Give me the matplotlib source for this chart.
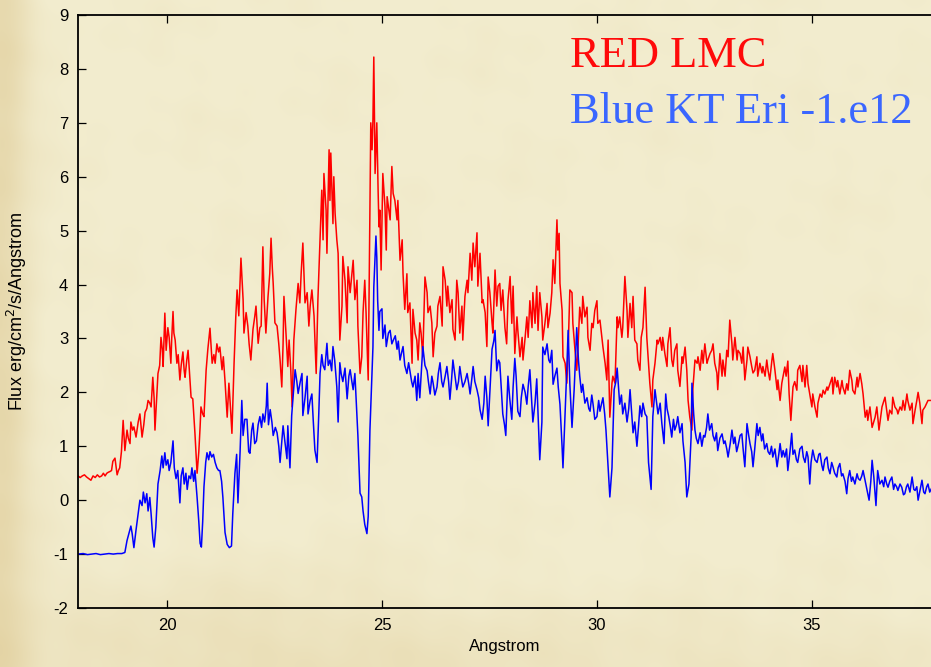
import numpy as np
import matplotlib
matplotlib.use("Agg")
import matplotlib.pyplot as plt

plt.rcParams["font.family"] = ["Liberation Sans", "DejaVu Sans"]
plt.rcParams["axes.unicode_minus"] = False

# (wavelength [A], flux) traced spectra
red_points = [
    (17.93, 0.45), (17.98, 0.42), (18.03, 0.45), (18.08, 0.47), (18.13, 0.43), (18.18, 0.40),
    (18.23, 0.37), (18.28, 0.45), (18.33, 0.42), (18.38, 0.47), (18.43, 0.43), (18.48, 0.45),
    (18.52, 0.50), (18.56, 0.45), (18.60, 0.50), (18.64, 0.52), (18.67, 0.53), (18.71, 0.55),
    (18.74, 0.72), (18.79, 0.78), (18.84, 0.47), (18.87, 0.55), (18.90, 0.60), (18.94, 0.90),
    (18.98, 1.48), (19.02, 0.92), (19.07, 1.30), (19.10, 1.15), (19.14, 1.05), (19.16, 1.45),
    (19.20, 1.30), (19.23, 1.36), (19.28, 1.17), (19.33, 1.45), (19.37, 1.60), (19.42, 1.17),
    (19.46, 1.40), (19.49, 1.63), (19.53, 1.70), (19.56, 1.85), (19.60, 1.80), (19.63, 1.73),
    (19.67, 2.28), (19.70, 1.90), (19.72, 1.30), (19.76, 1.90), (19.79, 2.35), (19.83, 2.50),
    (19.86, 3.02), (19.89, 2.80), (19.91, 2.48), (19.95, 3.47), (19.98, 2.78), (20.02, 3.20),
    (20.05, 3.02), (20.09, 2.54), (20.11, 3.00), (20.14, 3.50), (20.16, 3.10), (20.19, 2.97),
    (20.23, 2.54), (20.26, 2.70), (20.30, 2.23), (20.33, 2.50), (20.37, 2.75), (20.40, 2.40),
    (20.42, 2.28), (20.46, 2.60), (20.49, 2.78), (20.53, 2.30), (20.56, 1.91), (20.60, 1.88),
    (20.65, 1.24), (20.70, 0.50), (20.74, 0.90), (20.77, 1.36), (20.79, 1.73), (20.83, 1.60),
    (20.86, 1.55), (20.91, 2.41), (20.95, 2.80), (21.00, 3.19), (21.05, 2.54), (21.09, 2.70),
    (21.12, 2.54), (21.16, 2.90), (21.20, 2.75), (21.23, 2.84), (21.28, 2.42), (21.31, 2.66),
    (21.35, 2.20), (21.40, 1.54), (21.44, 2.17), (21.47, 1.80), (21.51, 1.24), (21.56, 2.54),
    (21.60, 3.40), (21.63, 3.90), (21.67, 3.42), (21.72, 4.49), (21.77, 3.72), (21.79, 3.10),
    (21.84, 3.48), (21.88, 3.23), (21.91, 2.90), (21.95, 2.60), (22.00, 3.17), (22.04, 3.40),
    (22.07, 3.60), (22.12, 2.91), (22.16, 3.20), (22.19, 3.23), (22.23, 4.70), (22.26, 3.72),
    (22.30, 3.10), (22.35, 3.78), (22.39, 4.20), (22.42, 4.86), (22.45, 4.30), (22.47, 4.02),
    (22.51, 3.29), (22.56, 3.23), (22.60, 2.90), (22.63, 2.60), (22.67, 2.10), (22.70, 2.90),
    (22.72, 3.78), (22.77, 3.04), (22.81, 2.48), (22.84, 2.97), (22.88, 2.40), (22.91, 1.73),
    (22.95, 2.97), (23.00, 3.54), (23.05, 4.02), (23.09, 3.66), (23.12, 4.20), (23.16, 4.77),
    (23.21, 3.66), (23.26, 3.85), (23.30, 3.23), (23.33, 3.60), (23.37, 3.90), (23.42, 3.42),
    (23.47, 2.35), (23.51, 3.72), (23.56, 4.83), (23.60, 5.75), (23.63, 4.83), (23.65, 6.06),
    (23.70, 5.38), (23.72, 4.58), (23.77, 6.50), (23.79, 5.56), (23.81, 6.44), (23.86, 5.13),
    (23.88, 6.00), (23.91, 5.32), (23.95, 4.83), (23.98, 4.58), (24.02, 2.97), (24.07, 3.60),
    (24.09, 4.52), (24.14, 4.08), (24.19, 3.29), (24.21, 4.33), (24.26, 3.85), (24.30, 4.20),
    (24.33, 4.45), (24.37, 3.72), (24.42, 4.08), (24.44, 3.23), (24.49, 2.35), (24.53, 2.66),
    (24.56, 3.48), (24.60, 4.08), (24.63, 3.48), (24.65, 2.97), (24.68, 2.23), (24.72, 5.50),
    (24.74, 7.00), (24.77, 6.50), (24.79, 7.06), (24.81, 8.22), (24.84, 6.06), (24.88, 7.00),
    (24.91, 5.75), (24.93, 5.07), (24.95, 5.38), (24.98, 4.27), (25.02, 6.06), (25.07, 5.44),
    (25.10, 4.64), (25.12, 5.63), (25.19, 5.20), (25.23, 6.19), (25.26, 5.69), (25.30, 5.56),
    (25.35, 5.20), (25.37, 5.56), (25.42, 4.45), (25.47, 4.83), (25.49, 4.20), (25.53, 3.54),
    (25.58, 4.20), (25.60, 3.48), (25.65, 3.66), (25.70, 2.54), (25.72, 3.54), (25.77, 3.10),
    (25.81, 2.97), (25.84, 2.60), (25.88, 3.29), (25.91, 3.10), (25.95, 2.66), (26.00, 4.14),
    (26.05, 3.85), (26.07, 3.48), (26.12, 3.60), (26.16, 3.29), (26.19, 2.66), (26.23, 3.10),
    (26.28, 3.23), (26.30, 3.60), (26.35, 3.78), (26.40, 3.23), (26.42, 4.33), (26.47, 4.08),
    (26.51, 3.60), (26.53, 3.97), (26.58, 3.48), (26.63, 3.72), (26.65, 3.17), (26.70, 2.97),
    (26.74, 4.08), (26.77, 3.85), (26.81, 3.10), (26.86, 3.60), (26.88, 2.97), (26.93, 3.78),
    (26.98, 4.08), (27.00, 3.85), (27.05, 4.58), (27.09, 4.08), (27.12, 4.77), (27.16, 4.33),
    (27.21, 4.96), (27.23, 3.97), (27.28, 4.58), (27.33, 3.66), (27.35, 3.72), (27.40, 3.48),
    (27.44, 2.85), (27.47, 4.14), (27.51, 3.85), (27.56, 3.29), (27.58, 3.10), (27.63, 4.27),
    (27.67, 3.60), (27.70, 3.97), (27.74, 4.02), (27.77, 3.52), (27.81, 3.90), (27.86, 3.20),
    (27.90, 2.90), (27.93, 3.70), (27.98, 4.15), (28.02, 3.28), (28.05, 3.97), (28.09, 2.72),
    (28.14, 3.40), (28.16, 3.15), (28.21, 2.66), (28.26, 3.02), (28.28, 2.60), (28.33, 3.02),
    (28.37, 3.40), (28.40, 3.02), (28.44, 3.70), (28.49, 3.20), (28.51, 3.85), (28.56, 3.28),
    (28.60, 3.97), (28.63, 3.15), (28.67, 3.85), (28.72, 3.40), (28.74, 2.97), (28.79, 3.28),
    (28.84, 3.65), (28.86, 3.20), (28.91, 3.47), (28.95, 3.85), (28.98, 4.46), (29.02, 4.02),
    (29.07, 5.20), (29.09, 4.64), (29.12, 4.95), (29.14, 4.02), (29.19, 3.52), (29.21, 2.66),
    (29.26, 2.54), (29.30, 2.17), (29.33, 2.78), (29.37, 3.90), (29.42, 3.85), (29.44, 3.28),
    (29.49, 2.78), (29.53, 2.41), (29.56, 2.84), (29.60, 3.58), (29.65, 3.28), (29.67, 3.78),
    (29.72, 3.40), (29.77, 3.58), (29.79, 3.02), (29.84, 2.78), (29.88, 3.28), (29.91, 3.20),
    (29.95, 3.52), (30.00, 3.70), (30.02, 3.28), (30.07, 3.34), (30.12, 2.97), (30.14, 2.84),
    (30.19, 2.54), (30.23, 2.23), (30.26, 2.97), (30.30, 1.54), (30.35, 2.17), (30.37, 2.30),
    (30.42, 2.17), (30.47, 3.40), (30.49, 3.20), (30.53, 3.40), (30.58, 3.02), (30.60, 3.20),
    (30.65, 4.15), (30.70, 3.52), (30.72, 3.02), (30.77, 3.65), (30.81, 3.20), (30.84, 3.78),
    (30.88, 2.97), (30.93, 2.90), (30.95, 2.60), (31.00, 2.41), (31.03, 3.02), (31.07, 3.20),
    (31.12, 3.95), (31.16, 3.02), (31.19, 2.66), (31.23, 2.17), (31.28, 1.73), (31.30, 2.23),
    (31.35, 2.54), (31.40, 2.97), (31.42, 2.90), (31.47, 3.02), (31.51, 2.78), (31.53, 3.02),
    (31.58, 2.72), (31.63, 2.48), (31.65, 2.90), (31.70, 3.20), (31.74, 2.60), (31.77, 2.48),
    (31.81, 2.78), (31.86, 2.90), (31.88, 2.41), (31.93, 2.11), (31.98, 2.66), (32.00, 2.54),
    (32.05, 2.84), (32.09, 2.41), (32.12, 1.85), (32.16, 1.54), (32.21, 1.30), (32.23, 2.05),
    (32.28, 2.60), (32.33, 2.54), (32.35, 2.66), (32.40, 2.41), (32.44, 2.78), (32.47, 2.54),
    (32.51, 2.90), (32.56, 2.54), (32.58, 2.60), (32.63, 2.72), (32.67, 2.78), (32.70, 2.90),
    (32.74, 2.54), (32.79, 2.36), (32.81, 2.05), (32.86, 2.72), (32.91, 2.30), (32.93, 2.60),
    (32.98, 2.30), (33.02, 2.78), (33.05, 2.66), (33.09, 3.34), (33.14, 2.90), (33.16, 2.60),
    (33.21, 3.02), (33.26, 2.60), (33.28, 2.78), (33.33, 2.72), (33.37, 2.54), (33.40, 2.84),
    (33.44, 2.23), (33.49, 2.60), (33.51, 2.84), (33.56, 2.66), (33.60, 2.48), (33.63, 2.36),
    (33.67, 2.41), (33.72, 2.66), (33.74, 2.30), (33.79, 2.54), (33.84, 2.36), (33.86, 2.48),
    (33.91, 2.30), (33.95, 2.60), (33.98, 2.41), (34.02, 2.23), (34.07, 2.60), (34.09, 2.72),
    (34.14, 2.41), (34.19, 2.05), (34.21, 2.23), (34.26, 1.85), (34.30, 2.17), (34.33, 2.30),
    (34.37, 2.47), (34.40, 2.30), (34.44, 2.58), (34.47, 1.97), (34.51, 1.48), (34.56, 2.10),
    (34.60, 2.20), (34.65, 2.04), (34.67, 2.41), (34.72, 2.50), (34.77, 2.20), (34.79, 2.50),
    (34.84, 2.10), (34.88, 2.50), (34.91, 2.16), (34.95, 1.97), (35.00, 1.73), (35.02, 1.97),
    (35.07, 1.73), (35.12, 1.54), (35.14, 1.80), (35.19, 1.97), (35.23, 1.91), (35.26, 2.04),
    (35.30, 1.97), (35.35, 2.10), (35.37, 2.04), (35.42, 2.16), (35.47, 2.28), (35.49, 1.97),
    (35.53, 2.28), (35.58, 2.10), (35.60, 2.22), (35.65, 1.97), (35.70, 2.22), (35.72, 2.10),
    (35.77, 1.97), (35.81, 2.16), (35.84, 2.04), (35.88, 2.41), (35.93, 2.22), (35.95, 2.04),
    (36.00, 1.97), (36.05, 2.28), (36.07, 2.10), (36.12, 2.35), (36.16, 2.16), (36.19, 1.97),
    (36.24, 1.54), (36.28, 1.67), (36.30, 1.48), (36.35, 1.73), (36.40, 1.35), (36.47, 1.54),
    (36.51, 1.73), (36.56, 1.30), (36.63, 1.73), (36.70, 1.91), (36.74, 1.67), (36.77, 1.48),
    (36.81, 1.67), (36.86, 1.60), (36.88, 1.91), (36.93, 1.73), (36.98, 1.67), (37.00, 1.60),
    (37.05, 1.73), (37.09, 1.67), (37.12, 1.85), (37.16, 1.67), (37.21, 1.97), (37.23, 1.85),
    (37.28, 1.67), (37.33, 1.80), (37.35, 1.42), (37.40, 1.67), (37.44, 1.85), (37.47, 2.00),
    (37.51, 1.80), (37.56, 1.42), (37.58, 1.67), (37.63, 1.73), (37.67, 1.80), (37.70, 1.85),
    (37.80, 1.85),
]

blue_points = [
    (17.93, -1.00), (18.05, -0.99), (18.15, -1.01), (18.25, -1.00), (18.35, -0.99), (18.45, -1.01),
    (18.55, -1.00), (18.65, -0.99), (18.75, -1.00), (18.85, -0.99), (18.95, -0.99), (19.02, -0.97),
    (19.07, -0.75), (19.12, -0.60), (19.16, -0.48), (19.19, -0.62), (19.23, -0.88), (19.28, -0.55),
    (19.33, -0.25), (19.37, 0.00), (19.42, -0.10), (19.45, 0.15), (19.49, -0.05), (19.53, 0.12),
    (19.56, -0.20), (19.60, 0.05), (19.63, -0.25), (19.67, -0.70), (19.70, -0.87), (19.74, -0.50),
    (19.79, 0.30), (19.84, 0.55), (19.88, 0.82), (19.91, 0.60), (19.95, 0.88), (19.98, 0.65),
    (20.02, 0.75), (20.05, 0.55), (20.09, 0.70), (20.14, 1.10), (20.17, 0.60), (20.21, 0.40),
    (20.25, 0.55), (20.30, -0.05), (20.33, 0.45), (20.37, 0.60), (20.40, 0.30), (20.44, 0.50),
    (20.47, 0.20), (20.51, 0.45), (20.55, 0.40), (20.58, 0.60), (20.62, 0.35), (20.65, 0.55),
    (20.70, 0.05), (20.74, -0.40), (20.77, -0.80), (20.80, -0.87), (20.83, -0.40), (20.86, 0.25),
    (20.90, 0.70), (20.93, 0.88), (20.97, 0.75), (21.00, 0.90), (21.04, 0.80), (21.08, 0.85),
    (21.12, 0.70), (21.16, 0.60), (21.20, 0.55), (21.23, 0.55), (21.27, 0.35), (21.30, 0.05),
    (21.35, -0.60), (21.40, -0.82), (21.45, -0.88), (21.50, -0.85), (21.53, -0.25), (21.58, 0.50),
    (21.62, 0.85), (21.65, -0.05), (21.70, 0.90), (21.74, 1.85), (21.77, 1.20), (21.81, 1.50),
    (21.86, 1.50), (21.90, 0.90), (21.93, 0.87), (21.97, 1.30), (22.00, 1.43), (22.04, 1.05),
    (22.08, 1.10), (22.12, 1.40), (22.16, 1.55), (22.20, 1.35), (22.23, 1.60), (22.27, 1.45),
    (22.31, 1.75), (22.33, 2.17), (22.36, 1.40), (22.40, 1.68), (22.44, 1.45), (22.47, 1.20),
    (22.52, 1.35), (22.56, 1.25), (22.60, 1.00), (22.63, 0.70), (22.67, 1.10), (22.70, 1.38),
    (22.74, 1.10), (22.79, 0.77), (22.81, 1.38), (22.86, 0.60), (22.90, 1.57), (22.95, 2.10),
    (22.98, 2.42), (23.02, 2.20), (23.05, 1.98), (23.10, 2.20), (23.14, 2.35), (23.16, 1.57),
    (23.21, 1.90), (23.26, 2.30), (23.28, 1.60), (23.33, 1.85), (23.37, 1.97), (23.40, 1.50),
    (23.44, 0.93), (23.49, 0.70), (23.53, 1.60), (23.56, 2.35), (23.60, 2.70), (23.63, 2.50),
    (23.67, 2.42), (23.72, 2.91), (23.75, 2.50), (23.79, 2.60), (23.83, 2.40), (23.86, 2.85),
    (23.90, 2.60), (23.95, 2.10), (23.98, 1.45), (24.02, 2.55), (24.05, 2.35), (24.09, 2.20),
    (24.14, 2.45), (24.19, 1.88), (24.23, 2.30), (24.26, 2.42), (24.30, 2.20), (24.33, 2.05),
    (24.37, 2.35), (24.42, 1.55), (24.44, 1.20), (24.49, 0.13), (24.53, 0.06), (24.56, -0.20),
    (24.60, -0.45), (24.65, -0.62), (24.68, -0.30), (24.72, 1.30), (24.76, 2.20), (24.79, 2.84),
    (24.81, 3.95), (24.84, 4.50), (24.86, 4.90), (24.88, 4.50), (24.90, 3.70), (24.93, 3.15),
    (24.95, 3.50), (25.00, 3.55), (25.02, 3.00), (25.07, 3.25), (25.10, 2.85), (25.15, 3.10),
    (25.19, 3.15), (25.23, 2.90), (25.26, 2.96), (25.31, 3.05), (25.35, 2.80), (25.38, 2.95),
    (25.42, 2.60), (25.46, 2.75), (25.49, 2.85), (25.53, 2.50), (25.58, 2.35), (25.62, 2.55),
    (25.65, 2.40), (25.69, 2.20), (25.72, 2.10), (25.77, 2.30), (25.81, 1.85), (25.84, 2.35),
    (25.88, 1.90), (25.91, 2.30), (25.95, 2.85), (26.00, 2.50), (26.05, 2.40), (26.08, 2.20),
    (26.12, 1.97), (26.16, 2.30), (26.19, 2.17), (26.23, 1.95), (26.28, 2.10), (26.31, 2.35),
    (26.35, 2.55), (26.39, 2.20), (26.42, 2.10), (26.47, 2.30), (26.51, 2.48), (26.55, 2.20),
    (26.58, 1.87), (26.62, 2.25), (26.65, 2.60), (26.70, 2.30), (26.74, 2.05), (26.78, 2.20),
    (26.81, 2.48), (26.85, 2.25), (26.88, 2.10), (26.93, 2.20), (26.98, 2.35), (27.02, 2.15),
    (27.05, 1.97), (27.09, 2.25), (27.12, 2.48), (27.16, 2.20), (27.21, 2.05), (27.25, 1.90),
    (27.28, 1.68), (27.33, 1.50), (27.37, 1.80), (27.40, 2.30), (27.44, 1.90), (27.47, 1.38),
    (27.51, 2.00), (27.56, 2.80), (27.60, 2.95), (27.63, 3.15), (27.67, 2.40), (27.71, 2.60),
    (27.74, 2.55), (27.78, 2.00), (27.81, 1.60), (27.85, 1.40), (27.88, 1.20), (27.93, 2.30),
    (27.97, 1.90), (28.02, 1.50), (28.05, 2.10), (28.09, 2.63), (28.12, 2.30), (28.16, 1.65),
    (28.21, 1.55), (28.24, 1.90), (28.28, 2.15), (28.33, 2.00), (28.37, 1.78), (28.40, 2.10),
    (28.44, 2.42), (28.47, 2.00), (28.51, 1.45), (28.56, 1.80), (28.60, 2.25), (28.63, 1.60),
    (28.67, 0.75), (28.72, 1.45), (28.74, 2.84), (28.79, 2.70), (28.84, 2.90), (28.88, 2.60),
    (28.91, 2.55), (28.95, 2.78), (28.98, 2.15), (29.02, 2.30), (29.07, 2.45), (29.10, 2.10),
    (29.14, 1.78), (29.19, 0.98), (29.21, 0.60), (29.26, 1.60), (29.30, 2.45), (29.33, 3.15),
    (29.37, 2.15), (29.42, 1.35), (29.47, 2.05), (29.50, 2.60), (29.53, 3.20), (29.57, 2.60),
    (29.60, 2.30), (29.64, 2.00), (29.67, 2.15), (29.72, 1.80), (29.77, 1.90), (29.81, 1.70),
    (29.84, 1.65), (29.88, 1.95), (29.91, 1.78), (29.95, 1.50), (30.00, 1.55), (30.04, 1.85),
    (30.07, 1.65), (30.11, 1.80), (30.14, 1.90), (30.18, 1.60), (30.21, 1.30), (30.26, 0.60),
    (30.30, 0.06), (30.35, 0.60), (30.40, 2.05), (30.44, 2.20), (30.47, 2.45), (30.51, 2.00),
    (30.53, 1.78), (30.57, 1.95), (30.60, 1.60), (30.65, 1.80), (30.70, 1.45), (30.74, 1.70),
    (30.77, 2.05), (30.81, 1.60), (30.84, 1.25), (30.88, 1.45), (30.93, 1.00), (30.97, 1.40),
    (31.00, 1.75), (31.04, 1.55), (31.07, 1.80), (31.12, 1.60), (31.16, 1.55), (31.20, 0.70),
    (31.26, 0.20), (31.30, 1.55), (31.35, 2.05), (31.39, 1.80), (31.42, 1.60), (31.47, 1.80),
    (31.51, 1.42), (31.56, 1.05), (31.60, 1.97), (31.63, 1.70), (31.67, 1.55), (31.71, 1.35),
    (31.74, 1.17), (31.78, 1.50), (31.81, 1.30), (31.85, 1.40), (31.88, 1.55), (31.93, 1.25),
    (31.98, 1.42), (32.00, 1.10), (32.05, 0.70), (32.09, 0.06), (32.14, 0.30), (32.19, 1.17),
    (32.21, 2.17), (32.25, 1.60), (32.28, 1.30), (32.31, 1.15), (32.35, 1.05), (32.40, 1.25),
    (32.44, 1.00), (32.48, 1.20), (32.51, 1.17), (32.55, 1.35), (32.58, 1.60), (32.62, 1.30),
    (32.67, 1.42), (32.70, 1.20), (32.74, 1.10), (32.78, 1.25), (32.81, 0.92), (32.86, 1.15),
    (32.91, 1.23), (32.95, 1.05), (32.98, 1.10), (33.02, 0.95), (33.05, 0.80), (33.10, 1.05),
    (33.14, 1.30), (33.18, 1.05), (33.21, 1.17), (33.25, 0.90), (33.28, 1.00), (33.33, 1.20),
    (33.37, 1.23), (33.40, 0.95), (33.44, 0.62), (33.49, 1.42), (33.53, 1.20), (33.56, 1.05),
    (33.60, 0.90), (33.63, 0.62), (33.67, 0.95), (33.72, 1.42), (33.75, 1.20), (33.79, 1.35),
    (33.83, 1.10), (33.86, 1.23), (33.90, 0.95), (33.95, 1.05), (33.98, 0.90), (34.02, 0.85),
    (34.06, 1.00), (34.09, 0.80), (34.14, 0.95), (34.19, 0.62), (34.23, 0.85), (34.26, 1.05),
    (34.30, 0.80), (34.33, 0.92), (34.37, 0.80), (34.41, 0.95), (34.44, 0.55), (34.49, 0.90),
    (34.53, 1.24), (34.56, 0.85), (34.60, 0.93), (34.64, 0.75), (34.67, 0.70), (34.72, 0.95),
    (34.77, 1.00), (34.80, 0.80), (34.84, 0.70), (34.88, 0.90), (34.91, 0.80), (34.95, 0.30),
    (34.98, 0.70), (35.02, 0.93), (35.07, 0.75), (35.12, 0.70), (35.16, 0.85), (35.19, 0.87),
    (35.23, 0.65), (35.26, 0.55), (35.30, 0.75), (35.35, 0.80), (35.38, 0.60), (35.42, 0.49),
    (35.46, 0.70), (35.49, 0.62), (35.53, 0.50), (35.58, 0.43), (35.61, 0.60), (35.65, 0.68),
    (35.69, 0.45), (35.72, 0.49), (35.77, 0.35), (35.81, 0.12), (35.84, 0.40), (35.88, 0.55),
    (35.92, 0.35), (35.95, 0.43), (36.00, 0.30), (36.05, 0.49), (36.08, 0.40), (36.12, 0.37),
    (36.16, 0.45), (36.19, 0.55), (36.24, 0.35), (36.28, 0.18), (36.33, 0.00), (36.37, 0.35),
    (36.40, 0.74), (36.44, 0.43), (36.49, -0.10), (36.53, 0.55), (36.58, 0.30), (36.63, 0.37),
    (36.67, 0.25), (36.70, 0.43), (36.74, 0.30), (36.77, 0.24), (36.81, 0.35), (36.86, 0.43),
    (36.90, 0.20), (36.93, 0.30), (36.97, 0.25), (37.00, 0.18), (37.05, 0.30), (37.09, 0.24),
    (37.13, 0.10), (37.16, 0.12), (37.20, 0.25), (37.23, 0.30), (37.28, 0.15), (37.33, 0.43),
    (37.37, 0.20), (37.40, 0.18), (37.44, 0.25), (37.47, 0.00), (37.52, 0.20), (37.56, 0.37),
    (37.60, 0.15), (37.63, 0.12), (37.67, 0.25), (37.70, 0.30), (37.74, 0.15), (37.80, 0.25),
]

x_ticks = [20, 25, 30, 35]
y_ticks = list(range(-2, 10))
series_labels = ["RED LMC", "Blue KT Eri -1.e12"]

red_wave, red_flux = np.array(red_points).T
blue_wave, blue_flux = np.array(blue_points).T

W, H = 931, 667
fig = plt.figure(figsize=(W / 100, H / 100), dpi=100)

# parchment-like backdrop: pale cream with darker tan toward the left edge and bottom
bg = fig.add_axes([0, 0, 1, 1])
yy, xx = np.mgrid[0:H, 0:W].astype(float)
shade = (0.55 * np.exp(-(xx / 30.0) ** 2)
         + 0.30 * np.exp(-((xx - 230) / 260.0) ** 2 - ((yy - 660) / 90.0) ** 2)
         + 0.20 * np.exp(-((xx - 700) / 400.0) ** 2 - ((yy - 667) / 60.0) ** 2)
         + 0.05 * np.sin(xx / 37.0 + yy / 53.0) * np.sin(yy / 29.0 - xx / 71.0)
         + 0.03 * np.sin(xx / 11.0 - yy / 17.0) * np.sin(yy / 13.0 + xx / 23.0))
shade = np.clip(shade, 0, 1)
base = np.array([0.950, 0.927, 0.808])
tan = np.array([0.870, 0.790, 0.580])
img = base[None, None, :] * (1 - shade[..., None]) + tan[None, None, :] * shade[..., None]
bg.imshow(img, aspect="auto", extent=[0, 1, 0, 1], origin="upper")
bg.axis("off")

ax = fig.add_axes([78 / W, 1 - 608 / H, 1 - 78 / W, (608 - 15) / H])
ax.patch.set_alpha(0)

ax.plot(red_wave, red_flux, color="#ff0000", lw=1.1)
ax.plot(blue_wave, blue_flux, color="#0000ff", lw=1.1)

ax.set_xlim(17.93, 37.77)
ax.set_ylim(-2, 9)
ax.set_xticks(x_ticks)
ax.set_yticks(y_ticks)
ax.tick_params(direction="in", length=6, width=0.9, top=True, labelsize=12, pad=7)
for s in ["left", "bottom", "top"]:
    ax.spines[s].set_linewidth(1.3)
ax.spines["right"].set_visible(False)

ax.set_xlabel("Angstrom", fontsize=12)
ax.xaxis.set_label_coords(0.5, -0.053)
ax.set_ylabel("Flux erg/cm$^2$/s/Angstrom", fontsize=13)
ax.yaxis.set_label_coords(-0.058, 0.5)

fig.text(570 / W, 1 - 67 / H, series_labels[0], color="#ff0a0a", fontsize=32,
         family="Liberation Serif", va="baseline")
fig.text(570 / W, 1 - 123 / H, series_labels[1], color="#3a66ff", fontsize=32,
         family="Liberation Serif", va="baseline")

fig.savefig("out.png", dpi=100)
